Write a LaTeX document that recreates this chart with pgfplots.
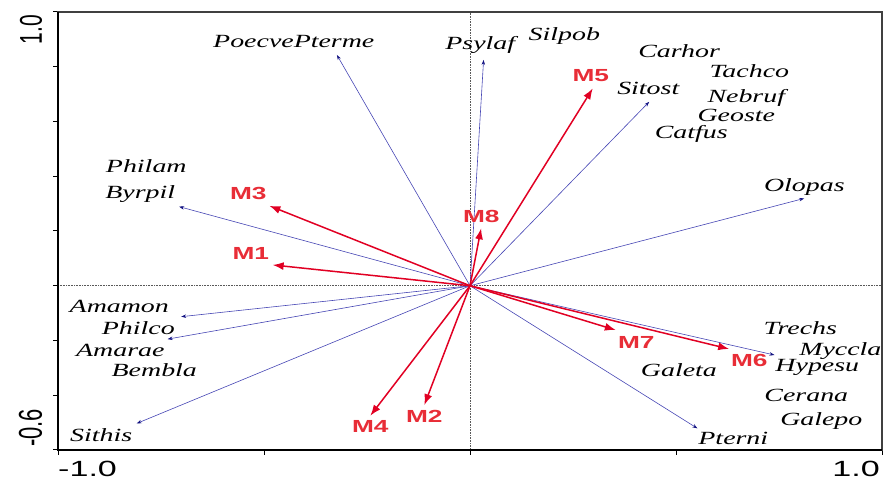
\documentclass[border=0pt]{standalone}
\usepackage{pgfplots}
\pgfplotsset{compat=1.18}
\usepackage{fontspec}
\setmainfont{Liberation Serif}
\newfontfamily\arial{Liberation Sans}
\usetikzlibrary{arrows.meta}
\definecolor{redarr}{RGB}{225,0,35}
\definecolor{redlab}{RGB}{232,45,55}
\definecolor{bluel}{RGB}{70,70,180}
\definecolor{bluet}{RGB}{20,20,130}
\newcommand{\spn}[1]{\scalebox{1.5}[1]{\fontsize{18.6}{18.6}\selectfont\itshape #1}}
\newcommand{\ml}[1]{\scalebox{1.5}[1]{\fontsize{17.5}{17.5}\selectfont\arial\bfseries #1}}
\pgfplotsset{
  spec/.style={bluel, line width=0.6pt, -{Stealth[length=5pt,width=3.5pt,color=bluet]}},
  env/.style={redarr, line width=1.5pt, -{Latex[length=11pt,width=8pt]}},
}
\begin{document}
\begin{tikzpicture}
\begin{axis}[at={(58pt,29pt)}, anchor=south west, scale only axis,
  width=824pt, height=438pt,
  xmin=-1, xmax=1, ymin=-0.6, ymax=1,
  xtick={-1,-0.5,0,0.5,1}, ytick={-0.6,-0.4,-0.2,0,0.2,0.4,0.6,0.8,1},
  xticklabels={}, yticklabels={},
  tick pos=left, tick align=outside, major tick length=5pt,
  tick style={black, line width=1pt},
  axis line style={draw=black!75, line width=1.2pt},
  clip=false]
\addplot[black!65, densely dotted, line width=0.6pt] coordinates {(-1,0) (1,0)};
\addplot[black!65, densely dotted, line width=0.6pt] coordinates {(0,-0.6) (0,1)};
% species
\addplot[spec] coordinates {(0,0) (-0.323,0.843)};
\addplot[spec] coordinates {(0,0) (0.033,0.825)};
\addplot[spec] coordinates {(0,0) (0.435,0.672)};
\addplot[spec] coordinates {(0,0) (0.811,0.319)};
\addplot[spec] coordinates {(0,0) (-0.706,0.289)};
\addplot[spec] coordinates {(0,0) (-0.701,-0.113)};
\addplot[spec] coordinates {(0,0) (-0.734,-0.195)};
\addplot[spec] coordinates {(0,0) (-0.809,-0.503)};
\addplot[spec] coordinates {(0,0) (0.739,-0.253)};
\addplot[spec] coordinates {(0,0) (0.552,-0.521)};
% environmental
\addplot[env] coordinates {(0,0) (-0.487,0.292)};
\addplot[env] coordinates {(0,0) (-0.479,0.076)};
\addplot[env] coordinates {(0,0) (0.027,0.210)};
\addplot[env] coordinates {(0,0) (0.298,0.721)};
\addplot[env] coordinates {(0,0) (-0.242,-0.475)};
\addplot[env] coordinates {(0,0) (-0.111,-0.436)};
\addplot[env] coordinates {(0,0) (0.354,-0.162)};
\addplot[env] coordinates {(0,0) (0.629,-0.231)};
% species labels
\node[anchor=base, inner sep=0] at (axis cs:-0.4277,0.8721) {\spn{PoecvePterme}};
\node[anchor=base, inner sep=0] at (axis cs:0.0250,0.8612) {\spn{Psylaf}};
\node[anchor=base, inner sep=0] at (axis cs:0.2289,0.8977) {\spn{Silpob}};
\node[anchor=base, inner sep=0] at (axis cs:0.5075,0.8320) {\spn{Carhor}};
\node[anchor=base, inner sep=0] at (axis cs:0.6779,0.7589) {\spn{Tachco}};
\node[anchor=base, inner sep=0] at (axis cs:0.4327,0.6968) {\spn{Sitost}};
\node[anchor=base, inner sep=0] at (axis cs:0.6706,0.6712) {\spn{Nebruf}};
\node[anchor=base, inner sep=0] at (axis cs:0.6464,0.5982) {\spn{Geoste}};
\node[anchor=base, inner sep=0] at (axis cs:0.5371,0.5361) {\spn{Catfus}};
\node[anchor=base, inner sep=0] at (axis cs:0.8114,0.3461) {\spn{Olopas}};
\node[anchor=base, inner sep=0] at (axis cs:-0.7857,0.4128) {\spn{Philam}};
\node[anchor=base, inner sep=0] at (axis cs:-0.8002,0.3178) {\spn{Byrpil}};
\node[anchor=base, inner sep=0] at (axis cs:-0.8512,-0.0984) {\spn{Amamon}};
\node[anchor=base, inner sep=0] at (axis cs:-0.8051,-0.1763) {\spn{Philco}};
\node[anchor=base, inner sep=0] at (axis cs:-0.8488,-0.2592) {\spn{Amarae}};
\node[anchor=base, inner sep=0] at (axis cs:-0.7663,-0.3322) {\spn{Bembla}};
\node[anchor=base, inner sep=0] at (axis cs:-0.8954,-0.5697) {\spn{Sithis}};
\node[anchor=base, inner sep=0] at (axis cs:0.8017,-0.1799) {\spn{Trechs}};
\node[anchor=base, inner sep=0] at (axis cs:0.8988,-0.2566) {\spn{Myccla}};
\node[anchor=base, inner sep=0] at (axis cs:0.8430,-0.3140) {\spn{Hypesu}};
\node[anchor=base, inner sep=0] at (axis cs:0.5070,-0.3322) {\spn{Galeta}};
\node[anchor=base, inner sep=0] at (axis cs:0.8163,-0.4236) {\spn{Cerana}};
\node[anchor=base, inner sep=0] at (axis cs:0.8527,-0.5087) {\spn{Galepo}};
\node[anchor=base, inner sep=0] at (axis cs:0.6391,-0.5817) {\spn{Pterni}};
% environmental labels
\node[anchor=base, inner sep=0, text=redlab] at (axis cs:-0.5381,0.3158) {\ml{M3}};
\node[anchor=base, inner sep=0, text=redlab] at (axis cs:-0.5320,0.0966) {\ml{M1}};
\node[anchor=base, inner sep=0, text=redlab] at (axis cs:0.0274,0.2303) {\ml{M8}};
\node[anchor=base, inner sep=0, text=redlab] at (axis cs:0.2932,0.7479) {\ml{M5}};
\node[anchor=base, inner sep=0, text=redlab] at (axis cs:-0.2420,-0.5368) {\ml{M4}};
\node[anchor=base, inner sep=0, text=redlab] at (axis cs:-0.1109,-0.4988) {\ml{M2}};
\node[anchor=base, inner sep=0, text=redlab] at (axis cs:0.4036,-0.2285) {\ml{M7}};
\node[anchor=base, inner sep=0, text=redlab] at (axis cs:0.6779,-0.2957) {\ml{M6}};
\draw[black, line width=2pt] (rel axis cs:0,1) -- (rel axis cs:0,0) -- (rel axis cs:1,0);
\end{axis}
% tick labels
\node[anchor=base west, inner sep=0] at (58pt,2pt) {\scalebox{1.55}[1]{\fontsize{22}{22}\selectfont\arial -1.0}};
\node[anchor=base east, inner sep=0] at (880pt,2pt) {\scalebox{1.55}[1]{\fontsize{22}{22}\selectfont\arial 1.0}};
\node[anchor=base east, inner sep=0, rotate=90] at (42pt,464pt) {\scalebox{1}[1.5]{\fontsize{21}{21}\selectfont\arial 1.0}};
\node[anchor=base west, inner sep=0, rotate=90] at (42pt,32pt) {\scalebox{1}[1.5]{\fontsize{22}{22}\selectfont\arial -0.6}};
\pgfresetboundingbox
\path (0,0) rectangle (883pt,479pt);
\end{tikzpicture}
\end{document}
